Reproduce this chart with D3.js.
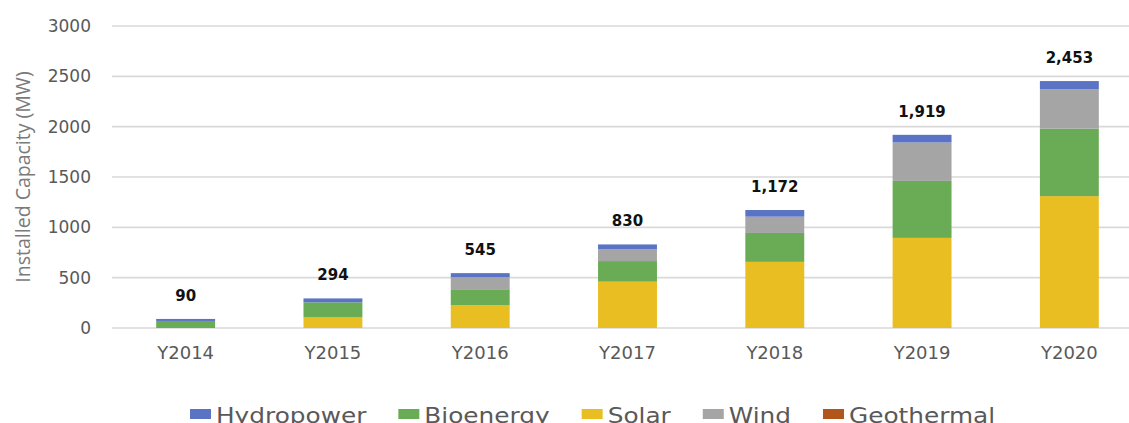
<!DOCTYPE html>
<meta charset="utf-8">
<style>
  body { margin: 0; background: #fff; }
</style>
<script src="https://d3js.org/d3.v7.min.js"></script>
<div id="chart"></div>
<script>

// data (MW)
var years      = ["Y2014", "Y2015", "Y2016", "Y2017", "Y2018", "Y2019", "Y2020"];
var solar      = [0, 105, 225, 460, 657, 895, 1310];
var bioenergy  = [70, 150, 160, 205, 287, 566, 670];
var wind       = [0, 0, 120, 116, 162, 382, 390];
var hydropower = [20, 39, 40, 49, 66, 76, 83];
var geothermal = [0, 0, 0, 0, 0, 0, 0];
var totals     = [90, 294, 545, 830, 1172, 1919, 2453];
var yTicks     = [0, 500, 1000, 1500, 2000, 2500, 3000];

// stack order bottom -> top, legend order separately
var stackKeys  = ["Solar", "Bioenergy", "Wind", "Hydropower", "Geothermal"];
var legendKeys = ["Hydropower", "Bioenergy", "Solar", "Wind", "Geothermal"];
var colors = {
  Hydropower: "#5a73c4",
  Bioenergy:  "#6aac55",
  Solar:      "#e9be22",
  Wind:       "#a5a5a5",
  Geothermal: "#b0561a"
};

var rows = years.map(function(y, i) {
  return {year: y, Solar: solar[i], Bioenergy: bioenergy[i], Wind: wind[i],
          Hydropower: hydropower[i], Geothermal: geothermal[i], total: totals[i]};
});

var W = 1129, H = 423;
var svg = d3.select("#chart").append("svg")
  .attr("width", W)
  .attr("height", H)
  .style("font-family", "'DejaVu Sans', sans-serif");

svg.append("rect").attr("width", W).attr("height", H).attr("fill", "#fff");

var x = d3.scaleBand()
  .domain(years)
  .range([112, 1143])
  .paddingInner(0.6)
  .paddingOuter(0.3);

var y = d3.scaleLinear()
  .domain([0, 3000])
  .range([328, 26]);

// gridlines
svg.append("g")
  .selectAll("line")
  .data(yTicks)
  .enter().append("line")
    .attr("x1", 112)
    .attr("x2", W)
    .attr("y1", function(d) { return y(d); })
    .attr("y2", function(d) { return y(d); })
    .attr("stroke", "#d9d9d9")
    .attr("stroke-width", 1.6);

// y tick labels
svg.append("g")
  .selectAll("text")
  .data(yTicks)
  .enter().append("text")
    .attr("x", 91)
    .attr("y", function(d) { return y(d); })
    .attr("dy", "0.36em")
    .attr("text-anchor", "end")
    .attr("fill", "#595959")
    .style("font-size", "17px")
    .text(function(d) { return d; });

// y axis title
svg.append("text")
  .attr("transform", "translate(30,177) rotate(-90)")
  .attr("text-anchor", "middle")
  .attr("fill", "#7a7a7a")
  .style("font-family", "'Open Sans', sans-serif")
  .style("font-size", "19.5px")
  .text("Installed Capacity (MW)");

// stacked bars
var series = d3.stack().keys(stackKeys)(rows);

svg.append("g")
  .selectAll("g")
  .data(series)
  .enter().append("g")
    .attr("fill", function(d) { return colors[d.key]; })
  .selectAll("rect")
  .data(function(d) { return d; })
  .enter().append("rect")
    .attr("x", function(d) { return x(d.data.year); })
    .attr("width", x.bandwidth())
    .attr("y", function(d) { return y(d[1]); })
    .attr("height", function(d) { return y(d[0]) - y(d[1]); });

// total labels
svg.append("g")
  .selectAll("text")
  .data(rows)
  .enter().append("text")
    .attr("x", function(d) { return x(d.year) + x.bandwidth() / 2; })
    .attr("y", function(d) { return y(d.total) - 18; })
    .attr("text-anchor", "middle")
    .attr("fill", "#111")
    .style("font-size", "15px")
    .style("font-weight", "bold")
    .text(function(d) { return d3.format(",")(d.total); });

// x labels
svg.append("g")
  .selectAll("text")
  .data(years)
  .enter().append("text")
    .attr("x", function(d) { return x(d) + x.bandwidth() / 2; })
    .attr("y", 359)
    .attr("text-anchor", "middle")
    .attr("fill", "#595959")
    .style("font-size", "18px")
    .text(function(d) { return d; });

// legend (stretched a bit like the original, sits at the bottom edge)
var legend = svg.append("g");
var lx = 190, stretch = 1.18;
legendKeys.forEach(function(k) {
  legend.append("rect")
    .attr("x", lx)
    .attr("y", 409)
    .attr("width", 21)
    .attr("height", 10)
    .attr("fill", colors[k]);
  var t = legend.append("text")
    .attr("transform", "translate(" + (lx + 26) + ",423) scale(" + stretch + ",1)")
    .attr("fill", "#595959")
    .style("font-size", "21px")
    .text(k);
  lx += 26 + t.node().getComputedTextLength() * stretch + 32;
});

</script>
